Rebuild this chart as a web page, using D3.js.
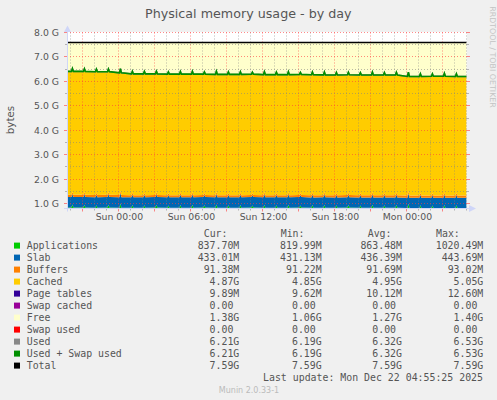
<!DOCTYPE html>
<html><head><meta charset="utf-8">
<script src="https://cdn.jsdelivr.net/npm/d3@7"></script>
<style>
html,body{margin:0;padding:0;background:#F0F0F0;}
svg{display:block;}
text{font-family:"DejaVu Sans";}
.mono{font-family:"DejaVu Sans Mono";white-space:pre;}
</style></head><body>
<svg id="c" width="497" height="400"></svg>
<script>
// ---------- DATA (values in GiB) ----------
const titleText = "Physical memory usage - by day";
const viewStart = "2025-12-20T19:43";
const viewEnd = "2025-12-22T05:03";
const lastSample = "2025-12-22T05:00";
const hourStamps = [
 "2025-12-20T20:00","2025-12-20T21:00","2025-12-20T22:00","2025-12-20T23:00",
 "2025-12-21T00:00","2025-12-21T01:00","2025-12-21T02:00","2025-12-21T03:00","2025-12-21T04:00",
 "2025-12-21T05:00","2025-12-21T06:00","2025-12-21T07:00","2025-12-21T08:00","2025-12-21T09:00",
 "2025-12-21T10:00","2025-12-21T11:00","2025-12-21T12:00","2025-12-21T13:00","2025-12-21T14:00",
 "2025-12-21T15:00","2025-12-21T16:00","2025-12-21T17:00","2025-12-21T18:00","2025-12-21T19:00",
 "2025-12-21T20:00","2025-12-21T21:00","2025-12-21T22:00","2025-12-21T23:00",
 "2025-12-22T00:00","2025-12-22T01:00","2025-12-22T02:00","2025-12-22T03:00","2025-12-22T04:00"];
const appsBase = [0.84,0.84,0.83,0.84, 0.83,
 0.83,0.83,0.84,0.83,0.83,0.83,0.84,0.83,0.83,0.83,0.84,0.83,0.83,0.83,0.84,0.83,0.83,0.83,0.84,0.83,0.83,0.83,0.83,
 0.82,0.82,0.82,0.82,0.82];
const appsPeak = [0.96,0.95,0.93,0.95, 1.00,
 0.94,0.93,0.95,0.92,0.94,0.95,0.93,0.96,0.93,0.94,0.92,0.95,0.93,0.95,0.92,0.94,0.95,0.93,0.94,0.92,0.95,0.93,0.94,
 0.99,0.93,0.92,0.94,0.93];
const slab = [0.428,0.428,0.427,0.428,0.429,0.426,0.426,0.427,0.426,0.426,0.426,0.427,0.426,0.426,0.426,0.426,0.427,
 0.426,0.426,0.426,0.425,0.426,0.425,0.425,0.425,0.425,0.424,0.424,0.424,0.423,0.423,0.423,0.423];
const buffers = [0.0905,0.0905,0.0904,0.0903,0.0902,0.0900,0.0899,0.0898,0.0898,0.0897,0.0897,0.0896,0.0896,0.0896,
 0.0895,0.0895,0.0895,0.0894,0.0894,0.0894,0.0894,0.0893,0.0893,0.0893,0.0893,0.0893,0.0892,0.0892,0.0892,0.0892,
 0.0892,0.0892,0.0892];
const cached = [5.04,5.04,5.04,5.03, 4.99,
 4.95,4.95,4.94,4.94,4.94,4.94,4.93,4.93,4.93,4.93,4.93,4.92,4.92,4.92,4.92,4.92,4.91,4.91,4.91,4.91,4.91,4.91,4.91,
 4.86,4.86,4.87,4.87,4.86];
const pageTables = [0.0099,0.0098,0.0099,0.0099,0.0100,0.0099,0.0098,0.0099,0.0099,0.0098,0.0099,0.0099,0.0098,
 0.0099,0.0099,0.0098,0.0099,0.0099,0.0098,0.0099,0.0099,0.0098,0.0099,0.0099,0.0098,0.0099,0.0099,0.0098,0.0097,
 0.0097,0.0097,0.0097,0.0097];
const swapCached = [0,0,0,0,0,0,0,0,0,0,0,0,0,0,0,0,0,0,0,0,0,0,0,0,0,0,0,0,0,0,0,0,0];
const swapUsed = [0,0,0,0,0,0,0,0,0,0,0,0,0,0,0,0,0,0,0,0,0,0,0,0,0,0,0,0,0,0,0,0,0];
const totalMem = 7.59;

const yMajorTicks = [1,2,3,4,5,6,7,8];
const yMinorTicks = [1.5,2.5,3.5,4.5,5.5,6.5,7.5];
const yTickLabels = ["1.0 G","2.0 G","3.0 G","4.0 G","5.0 G","6.0 G","7.0 G","8.0 G"];

const legendNames = ["Applications","Slab","Buffers","Cached","Page tables","Swap cached","Free","Swap used","Used","Used + Swap used","Total"];
const legendColors = ["#00CC00","#0066B3","#FF8000","#FFCC00","#330099","#990099","#FFFFCC","#FF0000","#888888","#008F00","#000000"];
const curVals = ["837.70M","433.01M","91.38M","4.87G","9.89M","0.00","1.38G","0.00","6.21G","6.21G","7.59G"];
const minVals = ["819.99M","431.13M","91.22M","4.85G","9.62M","0.00","1.06G","0.00","6.19G","6.19G","7.59G"];
const avgVals = ["863.48M","436.39M","91.69M","4.95G","10.12M","0.00","1.27G","0.00","6.32G","6.32G","7.59G"];
const maxVals = ["1020.49M","443.69M","93.02M","5.05G","12.60M","0.00","1.40G","0.00","6.53G","6.53G","7.59G"];
const lastUpdate = "Last update: Mon Dec 22 04:55:25 2025";
const footer = "Munin 2.0.33-1";
const watermark = "RRDTOOL / TOBI OETIKER";

// ---------- BUILD TABLE ----------
const parse = d3.utcParse("%Y-%m-%dT%H:%M");
const rows = [];
function pushRow(t, i, peak) {
  const r = {t, apps: peak ? appsPeak[i] : appsBase[i], slab: slab[i], buffers: buffers[i],
    cached: cached[i], pageTables: pageTables[i], swapCached: swapCached[i], swapUsed: swapUsed[i]};
  r.used = r.apps + r.slab + r.buffers + r.cached + r.pageTables + r.swapCached;
  r.free = totalMem - r.used;
  r.usedSwap = r.used + r.swapUsed;
  r.total = totalMem;
  rows.push(r);
}
pushRow(parse(viewStart), 0, false);
hourStamps.forEach((h, i) => {
  const t0 = parse(h);
  pushRow(d3.utcMinute.offset(t0, 5), i, false);
  pushRow(d3.utcMinute.offset(t0, 10), i, true);
  pushRow(d3.utcMinute.offset(t0, 15), i, false);
});
pushRow(parse(lastSample), hourStamps.length - 1, false);

const keys = ["apps","slab","buffers","cached","pageTables","swapCached","free","swapUsed"];
const keyColor = {apps:"#00CC00", slab:"#0066B3", buffers:"#FF8000", cached:"#FFCC00",
  pageTables:"#330099", swapCached:"#990099", free:"#FFFFCC", swapUsed:"#FF0000"};

// ---------- LAYOUT ----------
const L = 67, R = 467, T = 32.5, B = 208.5;
const x = d3.scaleUtc().domain([parse(viewStart), parse(viewEnd)]).range([L, R]);
const y = d3.scaleLinear().domain([0.8, 8.0]).range([B, T]);

const svg = d3.select("#c");
svg.append("rect").attr("width",497).attr("height",400).attr("fill","#F0F0F0");
svg.append("defs").append("clipPath").attr("id","clip")
  .append("rect").attr("x",L).attr("y",T-0.5).attr("width",R-L).attr("height",B-T+0.5);
svg.append("rect").attr("x",L).attr("y",T-0.5).attr("width",R-L).attr("height",B-T+0.5).attr("fill","#FFFFFF");

const stack = d3.stack().keys(keys)(rows);
const area = d3.area().x(d => x(d.data.t)).y0(d => y(d[0])).y1(d => y(d[1]));
const g = svg.append("g").attr("clip-path","url(#clip)");
g.selectAll("path.a").data(stack).join("path").attr("class","a")
  .attr("fill", d => keyColor[d.key]).attr("d", area);

// ---------- GRID ----------
const gridG = svg.append("g");
const minorC = "rgba(130,130,130,0.55)", majorC = "rgba(255,60,60,0.6)";
const hoursAll = d3.utcHour.every(1).range(x.domain()[0], x.domain()[1]);
hoursAll.forEach(h => {
  const major = h.getUTCHours() % 3 === 0;
  const xx = Math.floor(x(h)) + 0.5;
  gridG.append("line").attr("x1",xx).attr("x2",xx).attr("y1",T).attr("y2",B)
    .attr("stroke", major ? majorC : minorC).attr("stroke-dasharray","1,2");
  gridG.append("line").attr("x1",xx).attr("x2",xx).attr("y1",B).attr("y2",B + (major ? 3 : 2))
    .attr("stroke", major ? majorC : minorC);
});
yMinorTicks.forEach(v => {
  const yy = Math.floor(y(v)) + 0.5;
  gridG.append("line").attr("x1",L).attr("x2",R).attr("y1",yy).attr("y2",yy)
    .attr("stroke",minorC).attr("stroke-dasharray","1,2");
  gridG.append("line").attr("x1",L-2).attr("x2",L).attr("y1",yy).attr("y2",yy).attr("stroke",minorC);
  gridG.append("line").attr("x1",R).attr("x2",R+2).attr("y1",yy).attr("y2",yy).attr("stroke",minorC);
});
yMajorTicks.forEach(v => {
  const yy = Math.floor(y(v)) + 0.5;
  gridG.append("line").attr("x1",L).attr("x2",R).attr("y1",yy).attr("y2",yy)
    .attr("stroke",majorC).attr("stroke-dasharray","1,2");
  gridG.append("line").attr("x1",L-3).attr("x2",L).attr("y1",yy).attr("y2",yy).attr("stroke",majorC);
  gridG.append("line").attr("x1",R).attr("x2",R+3).attr("y1",yy).attr("y2",yy).attr("stroke",majorC);
});

// ---------- LINES ----------
const lineOf = k => d3.line().x(d => x(d.t)).y(d => y(d[k]));
const lg = svg.append("g").attr("clip-path","url(#clip)").attr("fill","none");
lg.append("path").datum(rows).attr("stroke","#888888").attr("stroke-width",1.5).attr("d", lineOf("used"));
lg.append("path").datum(rows).attr("stroke","#008F00").attr("stroke-width",1.6).attr("d", lineOf("usedSwap"));
lg.append("path").datum(rows).attr("stroke","#000000").attr("stroke-width",1.6).attr("d", lineOf("total"));

// ---------- AXES ----------
const axisC = "#CFD6F8";
svg.append("line").attr("x1",L+0.5).attr("x2",L+0.5).attr("y1",B+3).attr("y2",T-4).attr("stroke",axisC);
svg.append("line").attr("x1",L-3).attr("x2",R+3).attr("y1",B).attr("y2",B).attr("stroke",axisC);
svg.append("path").attr("d",`M${L-3},${T-0.5} L${L+0.5},${T-7} L${L+4},${T-0.5} Z`).attr("fill",axisC);
svg.append("path").attr("d",`M${R+2},${B-3.5} L${R+9},${B} L${R+2},${B+3.5} Z`).attr("fill",axisC);

const txtC = "#555555";
yMajorTicks.forEach((v, i) => {
  svg.append("text").attr("x",59).attr("y",Math.floor(y(v)) + 4).attr("text-anchor","end")
    .attr("font-size","9.3px").attr("fill",txtC).text(yTickLabels[i]);
});
const fmt = d3.utcFormat("%a %H:%M");
hoursAll.filter(h => h.getUTCHours() % 6 === 0).forEach(h => {
  svg.append("text").attr("x", x(h) + 1).attr("y", 220).attr("text-anchor","middle")
    .attr("font-size","9.3px").attr("fill",txtC).text(fmt(h));
});

// ---------- TITLE / LABELS ----------
svg.append("text").attr("x",248.3).attr("y",18.3).attr("text-anchor","middle")
  .attr("font-size","12.7px").attr("fill",txtC).text(titleText);
svg.append("text").attr("transform","translate(14,120) rotate(-90)").attr("text-anchor","middle")
  .attr("font-size","10.3px").attr("fill",txtC).text("bytes");
svg.append("text").attr("transform","translate(489.5,57) rotate(90)").attr("text-anchor","middle")
  .attr("font-size","7.9px").attr("fill","#C4C4C4").text(watermark);

// ---------- LEGEND ----------
const cw = 5.96, fs = "9.9px";
const headers = [["Cur:",203.7],["Min:",280.7],["Avg:",367.7],["Max:",436]];
headers.forEach(([h, hx]) => svg.append("text").attr("class","mono").attr("x",hx).attr("y",237)
  .attr("font-size",fs).attr("fill",txtC).text(h));
const cols = [[curVals,239.3],[minVals,321.7],[avgVals,402],[maxVals,483.3]];
legendNames.forEach((name, i) => {
  const by = 249.2 + i * 12;
  svg.append("rect").attr("x",14).attr("y",by - 6.6).attr("width",6).attr("height",6).attr("fill",legendColors[i]);
  svg.append("text").attr("class","mono").attr("x",26.7).attr("y",by).attr("font-size",fs)
    .attr("fill",txtC).text(name);
  cols.forEach(([arr, cx]) => {
    const v = arr[i];
    const hasUnit = /[A-Za-z]$/.test(v);
    svg.append("text").attr("class","mono").attr("x", hasUnit ? cx : cx - cw).attr("y",by)
      .attr("text-anchor","end").attr("font-size",fs).attr("fill",txtC).text(v);
  });
});
svg.append("text").attr("class","mono").attr("x",483).attr("y",381).attr("text-anchor","end")
  .attr("font-size",fs).attr("fill",txtC).text(lastUpdate);
svg.append("text").attr("x",249).attr("y",392.5).attr("text-anchor","middle")
  .attr("font-size","8px").attr("fill","#BBBBBB").text(footer);
</script>
</body></html>
